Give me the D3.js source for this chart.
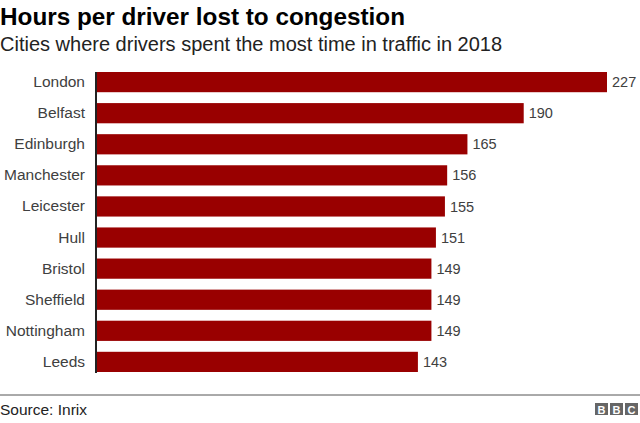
<!DOCTYPE html>
<html><head><meta charset="utf-8">
<script src="https://cdn.jsdelivr.net/npm/d3@7"></script>
<style>body{margin:0;background:#fff}svg{display:block;font-family:"Liberation Sans",Arial,sans-serif}</style>
</head><body><svg id="c" width="640" height="423"></svg>
<script>
const cities = ["London","Belfast","Edinburgh","Manchester","Leicester","Hull","Bristol","Sheffield","Nottingham","Leeds"];
const hours = [227,190,165,156,155,151,149,149,149,143];
const title = "Hours per driver lost to congestion";
const subtitle = "Cities where drivers spent the most time in traffic in 2018";
const source = "Source: Inrix";

const svg = d3.select("#c");
const x = d3.scaleLinear().domain([0,227]).range([96,607]);
const y = d3.scaleBand().domain(cities).range([72,372]).paddingInner(0.35).paddingOuter(0);

svg.append("text").attr("x",0).attr("y",25).attr("font-size",24.3).attr("font-weight","bold").attr("fill","#000").text(title);
svg.append("text").attr("x",0).attr("y",51).attr("font-size",20).attr("fill","#222").text(subtitle);

svg.selectAll("rect.bar").data(cities).join("rect").attr("class","bar")
  .attr("x",x(0)).attr("y",d=>y(d)).attr("height",y.bandwidth())
  .attr("width",(d,i)=>x(hours[i])-x(0)).attr("fill","#990000");

svg.selectAll("text.val").data(cities).join("text").attr("class","val")
  .attr("x",(d,i)=>x(hours[i])+5).attr("y",d=>y(d)+y.bandwidth()/2).attr("dy","0.35em")
  .attr("font-size",14.5).attr("fill","#404040").text((d,i)=>hours[i]);

const ax = svg.append("g").attr("transform",`translate(${x(0)},0)`)
  .call(d3.axisLeft(y).tickSize(0).tickPadding(11));
ax.select(".domain").attr("stroke","#222").attr("stroke-width",2).attr("d","M0,72V373");
ax.selectAll("text").attr("font-size",15.5).attr("fill","#404040").attr("font-family","Liberation Sans, Arial, sans-serif");

svg.append("line").attr("x1",0).attr("x2",640).attr("y1",395).attr("y2",395).attr("stroke","#555").attr("stroke-width",1);
svg.append("text").attr("x",0).attr("y",415).attr("font-size",15.5).attr("fill","#222").text(source);

const logo = svg.append("g").attr("transform","translate(595,403)");
["B","B","C"].forEach((l,i)=>{
  logo.append("rect").attr("x",i*15).attr("y",0).attr("width",13).attr("height",12).attr("fill","#666");
  logo.append("text").attr("x",i*15+6.5).attr("y",10.5).attr("text-anchor","middle").attr("font-size",11).attr("font-weight","bold").attr("fill","#fff").text(l);
});
</script></body></html>
